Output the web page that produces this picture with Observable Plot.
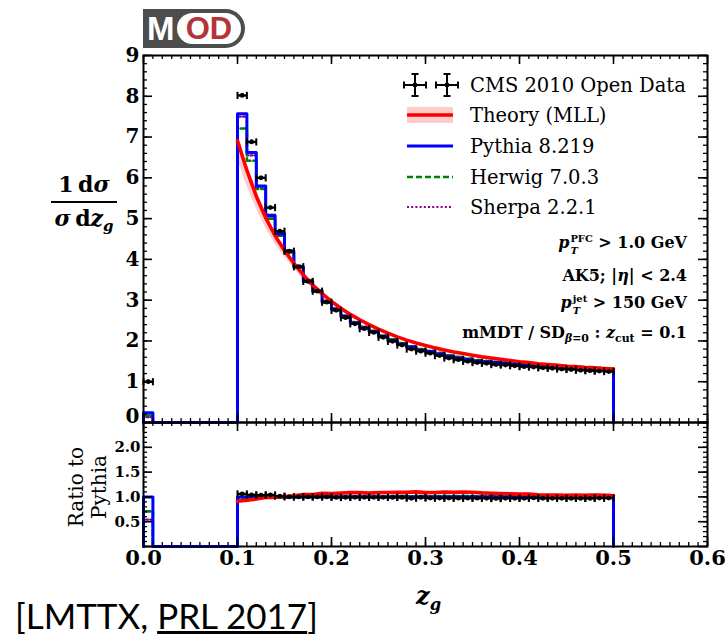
<!DOCTYPE html>
<html><head><meta charset="utf-8">
<script src="https://cdn.jsdelivr.net/npm/d3@7"></script>
<script src="https://cdn.jsdelivr.net/npm/@observablehq/plot@0.6"></script>
<style>
body{margin:0;background:#fff;}
#wrap{position:relative;width:728px;height:637px;background:#fff;overflow:hidden;font-family:"DejaVu Serif",serif;color:#000;}
.abs{position:absolute;}
.ann{position:absolute;right:41px;font-weight:bold;font-size:16px;line-height:20px;white-space:nowrap;text-align:right;}
.stk{display:inline-block;font-size:0.62em;line-height:1.2em;vertical-align:-0.6em;text-align:left;margin-left:1px;}
.stk span{display:block;}
.sb{font-size:0.68em;position:relative;top:0.35em;line-height:0;}
</style></head>
<body><div id="wrap">
  <!-- MOD logo -->
  <div class="abs" style="left:143px;top:9px;width:102px;height:39px;background:#4d4d4d;border-radius:0 20px 20px 0;font-family:'Liberation Sans',sans-serif;font-weight:bold;">
    <div class="abs" style="left:4px;top:2px;font-size:33px;line-height:36px;color:#fff;">M</div>
    <div class="abs" style="left:34px;top:4px;width:64px;height:31px;border-radius:16px;background:#fff;color:#b3343a;font-size:31px;line-height:32px;text-align:center;">OD</div>
  </div>
  <!-- y label -->
  <div class="abs" style="left:51px;top:170px;width:66px;text-align:center;font-weight:bold;font-size:22px;">
    <div style="border-bottom:2px solid #000;line-height:28px;padding-bottom:3px;">1&#8201;d<i>σ</i></div>
    <div style="line-height:30px;"><i>σ</i>&#8201;d<i>z</i><span class="sb"><i>g</i></span></div>
  </div>
  <!-- ratio label -->
  <div class="abs" style="left:28px;top:464px;width:120px;height:46px;transform:rotate(-90deg);transform-origin:60px 23px;text-align:center;font-size:20px;line-height:23px;">Ratio to<br>Pythia</div>
  <!-- x label -->
  <div class="abs" style="left:416px;top:583px;font-weight:bold;font-size:24px;line-height:26px;"><i>z</i><span class="sb"><i>g</i></span></div>
  <!-- caption -->
  <div class="abs" style="left:15px;top:594px;font-family:Lato,sans-serif;font-size:35px;line-height:42px;">[LMTTX, <u>PRL 2017</u>]</div>
</div>
<script>
// ---------------- data ----------------
// lower edges of the 0.01-wide bins between 0.10 and 0.50
const binLo = [0.10,0.11,0.12,0.13,0.14,0.15,0.16,0.17,0.18,0.19,
               0.20,0.21,0.22,0.23,0.24,0.25,0.26,0.27,0.28,0.29,
               0.30,0.31,0.32,0.33,0.34,0.35,0.36,0.37,0.38,0.39,
               0.40,0.41,0.42,0.43,0.44,0.45,0.46,0.47,0.48,0.49];
const binWidth = 0.01;
// first bin 0.00-0.01
const firstBinLo = 0.00;
const firstData = 1.00, firstPythia = 0.24, firstHerwig = 0.17, firstSherpa = 0.13;

const cmsData = [8.02,6.88,6.00,5.27,4.69,4.20,3.82,3.46,3.22,2.95,
                 2.75,2.57,2.42,2.30,2.21,2.09,1.99,1.90,1.80,1.75,
                 1.70,1.64,1.58,1.54,1.50,1.47,1.45,1.42,1.41,1.39,
                 1.37,1.36,1.34,1.33,1.31,1.30,1.28,1.27,1.26,1.25];
const cmsErr  = [0.05,0.05,0.04,0.04,0.04,0.04,0.03,0.03,0.03,0.03,
                 0.03,0.03,0.03,0.03,0.03,0.03,0.03,0.03,0.03,0.03,
                 0.03,0.03,0.03,0.03,0.03,0.03,0.03,0.03,0.03,0.03,
                 0.03,0.03,0.03,0.03,0.03,0.03,0.03,0.03,0.03,0.03];
const pythia  = [7.57,6.62,5.80,5.07,4.62,4.20,3.82,3.46,3.22,2.95,
                 2.78,2.60,2.44,2.32,2.23,2.11,2.01,1.92,1.85,1.77,
                 1.74,1.68,1.62,1.58,1.54,1.51,1.49,1.47,1.45,1.43,
                 1.41,1.39,1.38,1.37,1.35,1.34,1.32,1.31,1.29,1.28];
const herwig  = [7.21,6.42,5.73,5.00,4.58,4.17,3.80,3.46,3.22,2.97,
                 2.79,2.62,2.46,2.34,2.25,2.13,2.04,1.95,1.87,1.80,
                 1.76,1.71,1.65,1.61,1.57,1.53,1.51,1.49,1.47,1.45,
                 1.43,1.42,1.42,1.41,1.39,1.38,1.36,1.36,1.34,1.33];
const sherpa  = [7.50,6.55,5.78,5.10,4.66,4.22,3.84,3.50,3.25,2.99,
                 2.80,2.62,2.47,2.35,2.24,2.13,2.03,1.95,1.86,1.80,
                 1.75,1.69,1.64,1.60,1.56,1.52,1.50,1.48,1.46,1.44,
                 1.42,1.40,1.39,1.38,1.36,1.35,1.33,1.32,1.30,1.29];
// theory (MLL) curve
const theoryZ = [0.10,0.11,0.12,0.13,0.14,0.15,0.16,0.17,0.18,0.19,
                 0.20,0.21,0.22,0.23,0.24,0.25,0.26,0.27,0.28,0.29,
                 0.30,0.31,0.32,0.33,0.34,0.35,0.36,0.37,0.38,0.39,
                 0.40,0.41,0.42,0.43,0.44,0.45,0.46,0.47,0.48,0.49,0.50];
const theory  = [6.91,6.18,5.55,5.02,4.58,4.22,3.90,3.62,3.37,3.16,
                 2.97,2.80,2.65,2.52,2.40,2.29,2.19,2.10,2.02,1.95,
                 1.89,1.83,1.78,1.73,1.69,1.65,1.61,1.58,1.55,1.52,
                 1.49,1.47,1.44,1.42,1.40,1.38,1.37,1.35,1.34,1.32,1.31];
// theory uncertainty band
const bandZ  = [0.10,0.11,0.12,0.13,0.14,0.15,0.16,0.17,0.18,0.19,0.20,0.21,0.22,0.23,0.24,0.25];
const bandLo = [6.45,5.80,5.24,4.77,4.38,4.06,3.77,3.51,3.28,3.08,2.91,2.75,2.61,2.49,2.38,2.28];
const bandHi = [6.98,6.24,5.60,5.06,4.61,4.24,3.92,3.64,3.38,3.17,2.98,2.81,2.66,2.53,2.41,2.30];

// axis ticks
const xMajor = [0.0,0.1,0.2,0.3,0.4,0.5,0.6];
const xMinor = d3.range(0, 61).map(i => i / 100);
const yMainMajor = [0,1,2,3,4,5,6,7,8,9];
const yMainMinor = d3.range(0, 46).map(i => i / 5);
const yRatioMajor = [0,0.5,1.0,1.5,2.0,2.5];
const yRatioLabels = [0.5,1.0,1.5,2.0];
const yRatioMinor = d3.range(0, 26).map(i => i / 10);

// ---------------- helpers ----------------
function stepPoints(first, vals) {
  const pts = [{x: firstBinLo, y: 0}, {x: firstBinLo, y: first}, {x: firstBinLo + binWidth, y: 0}];
  binLo.forEach((lo, i) => pts.push({x: lo, y: vals[i]}));
  pts.push({x: binLo[binLo.length - 1] + binWidth, y: 0});
  return pts;
}
const ratioOf = (a, b) => a.map((v, i) => b[i] > 0 ? v / b[i] : 0);

const capSymbol = {draw(ctx, size) { const h = Math.sqrt(size / Math.PI); ctx.moveTo(0, -h); ctx.lineTo(0, h); }};

function dataMarks(rows, clip) {
  const caps = rows.flatMap(d => [{x: d.z - binWidth / 2, y: d.v}, {x: d.z + binWidth / 2, y: d.v}]);
  return [
    Plot.link(rows, {x1: d => d.z - binWidth / 2, x2: d => d.z + binWidth / 2, y1: "v", y2: "v", stroke: "black", strokeWidth: 2.4, clip}),
    Plot.ruleX(rows, {x: "z", y1: d => d.v - d.e, y2: d => d.v + d.e, stroke: "black", strokeWidth: 2, clip}),
    Plot.dot(caps, {x: "x", y: "y", symbol: capSymbol, r: 3.6, stroke: "black", fill: "none", strokeWidth: 2, clip}),
    Plot.dot(rows, {x: "z", y: "v", r: 2.4, fill: "black", stroke: null, clip})
  ];
}

function frameTicks(fw, fh, yMajor, yMinor) {
  const sw = 1.3;
  return [
    Plot.tickX(xMinor, {x: d => d, insetTop: fh - 4, strokeWidth: sw}),
    Plot.tickX(xMinor, {x: d => d, insetBottom: fh - 4, strokeWidth: sw}),
    Plot.tickX(xMajor, {x: d => d, insetTop: fh - 9, strokeWidth: sw + 0.3}),
    Plot.tickX(xMajor, {x: d => d, insetBottom: fh - 9, strokeWidth: sw + 0.3}),
    Plot.tickY(yMinor, {y: d => d, insetRight: fw - 4, strokeWidth: sw}),
    Plot.tickY(yMinor, {y: d => d, insetLeft: fw - 4, strokeWidth: sw}),
    Plot.tickY(yMajor, {y: d => d, insetRight: fw - 9, strokeWidth: sw + 0.3}),
    Plot.tickY(yMajor, {y: d => d, insetLeft: fw - 9, strokeWidth: sw + 0.3})
  ];
}

const W = 728, mL = 143, mR = 21;
const fw = W - mL - mR;
const wrap = document.getElementById("wrap");
function place(svg, top) {
  svg.style.position = "absolute";
  svg.style.left = "0px";
  svg.style.top = top + "px";
  svg.style.maxWidth = "none";
  wrap.appendChild(svg);
}

// ---------------- main panel ----------------
const mainData = [{z: 0.005, v: firstData, e: 0.04}].concat(binLo.map((lo, i) => ({z: lo + binWidth / 2, v: cmsData[i], e: cmsErr[i]})));
const theoryRows = theoryZ.map((z, i) => ({z, v: theory[i]}));
const bandRows = bandZ.map((z, i) => ({z, lo: bandLo[i], hi: bandHi[i]}));

const mainH = 430, mainT = 55, mainB = 8;
const main = Plot.plot({
  width: W, height: mainH,
  marginLeft: mL, marginRight: mR, marginTop: mainT, marginBottom: mainB,
  style: {background: "transparent", fontFamily: "DejaVu Serif", overflow: "visible"},
  x: {domain: [0, 0.6], axis: null},
  y: {domain: [0, 9], axis: null},
  marks: [
    Plot.areaY(bandRows, {x: "z", y1: "lo", y2: "hi", fill: "#ff9a9a", fillOpacity: 0.5}),
    Plot.line(stepPoints(firstSherpa, sherpa), {x: "x", y: "y", curve: "step-after", stroke: "#8b008b", strokeWidth: 2.2, strokeDasharray: "2,2.2"}),
    Plot.line(stepPoints(firstHerwig, herwig), {x: "x", y: "y", curve: "step-after", stroke: "#008000", strokeWidth: 2.6, strokeDasharray: "6,3"}),
    Plot.line(stepPoints(firstPythia, pythia), {x: "x", y: "y", curve: "step-after", stroke: "#0000ff", strokeWidth: 3}),
    Plot.line(theoryRows, {x: "z", y: "v", stroke: "#ff0000", strokeWidth: 3.6}),
    ...dataMarks(mainData, false),
    ...frameTicks(fw, mainH - mainT - mainB, yMainMajor, yMainMinor),
    Plot.frame({stroke: "black", strokeWidth: 2}),
    Plot.text(yMainMajor.filter(d => d > 0), {y: d => d, text: d => String(d), frameAnchor: "left", textAnchor: "end", dx: -4, fontSize: 20, fontWeight: "bold"}),
    Plot.text([0], {y: d => d, text: d => String(d), frameAnchor: "left", textAnchor: "end", dx: -4, dy: -6, fontSize: 20, fontWeight: "bold"})
  ]
});
place(main, 0);

// ---------------- ratio panel ----------------
const rData = ratioOf(cmsData, pythia);
const rErr = ratioOf(cmsErr, pythia);
const ratioData = binLo.map((lo, i) => ({z: lo + binWidth / 2, v: rData[i], e: rErr[i]}));
const rPythia = pythia.map(v => v > 0 ? 1 : 0);
const rHerwig = ratioOf(herwig, pythia);
const rSherpa = ratioOf(sherpa, pythia);
const theoryRatio = theoryZ.map((z, i) => ({z, v: theory[i] / pythia[Math.min(i, pythia.length - 1)]}));

const rH = 172, rT = 8, rB = 40;
const ratio = Plot.plot({
  width: W, height: rH,
  marginLeft: mL, marginRight: mR, marginTop: rT, marginBottom: rB,
  style: {background: "transparent", fontFamily: "DejaVu Serif", overflow: "visible"},
  x: {domain: [0, 0.6], axis: null},
  y: {domain: [0, 2.5], axis: null},
  marks: [
    Plot.line(stepPoints(firstSherpa / firstPythia, rSherpa), {x: "x", y: "y", curve: "step-after", stroke: "#8b008b", strokeWidth: 2.2, strokeDasharray: "2,2.2"}),
    Plot.line(stepPoints(firstHerwig / firstPythia, rHerwig), {x: "x", y: "y", curve: "step-after", stroke: "#008000", strokeWidth: 2.6, strokeDasharray: "6,3"}),
    Plot.line(stepPoints(1, rPythia), {x: "x", y: "y", curve: "step-after", stroke: "#0000ff", strokeWidth: 3}),
    Plot.line(theoryRatio, {x: "z", y: "v", stroke: "#ff0000", strokeWidth: 3.6}),
    ...dataMarks(ratioData, true),
    ...frameTicks(fw, rH - rT - rB, yRatioMajor, yRatioMinor),
    Plot.frame({stroke: "black", strokeWidth: 2}),
    Plot.text(yRatioLabels, {y: d => d, text: d => d.toFixed(1), frameAnchor: "left", textAnchor: "end", dx: -3, fontSize: 15, fontWeight: "bold"}),
    Plot.text(xMajor, {x: d => d, text: d => d.toFixed(1), frameAnchor: "bottom", lineAnchor: "top", dy: 4, fontSize: 21, fontWeight: "bold"})
  ]
});
place(ratio, 414);

// ---------------- legend ----------------
const legend = d3.create("svg").attr("width", 300).attr("height", 160)
  .style("position", "absolute").style("left", "395px").style("top", "68px")
  .style("font-family", "DejaVu Serif");
const rows = [
  {label: "CMS 2010 Open Data", y: 17},
  {label: "Theory (MLL)", y: 47},
  {label: "Pythia 8.219", y: 78},
  {label: "Herwig 7.0.3", y: 109},
  {label: "Sherpa 2.2.1", y: 139}
];
rows.forEach(r => legend.append("text").attr("x", 75).attr("y", r.y).attr("dy", "0.36em").attr("font-size", 19.5).text(r.label));
// data crosses
[20, 52].forEach(cx => {
  const g = legend.append("g").attr("stroke", "black").attr("stroke-width", 2);
  const cy = rows[0].y, h = 11, c = 3.5;
  g.append("line").attr("x1", cx - h).attr("x2", cx + h).attr("y1", cy).attr("y2", cy);
  g.append("line").attr("x1", cx).attr("x2", cx).attr("y1", cy - h).attr("y2", cy + h);
  g.append("line").attr("x1", cx - h).attr("x2", cx - h).attr("y1", cy - c).attr("y2", cy + c);
  g.append("line").attr("x1", cx + h).attr("x2", cx + h).attr("y1", cy - c).attr("y2", cy + c);
  g.append("line").attr("x1", cx - c).attr("x2", cx + c).attr("y1", cy - h).attr("y2", cy - h);
  g.append("line").attr("x1", cx - c).attr("x2", cx + c).attr("y1", cy + h).attr("y2", cy + h);
  legend.append("circle").attr("cx", cx).attr("cy", cy).attr("r", 2.4);
});
legend.append("rect").attr("x", 12).attr("y", rows[1].y - 8).attr("width", 46).attr("height", 16).attr("fill", "#ff9a9a").attr("fill-opacity", 0.5);
legend.append("line").attr("x1", 12).attr("x2", 58).attr("y1", rows[1].y).attr("y2", rows[1].y).attr("stroke", "#ff0000").attr("stroke-width", 3.6);
legend.append("line").attr("x1", 12).attr("x2", 58).attr("y1", rows[2].y).attr("y2", rows[2].y).attr("stroke", "#0000ff").attr("stroke-width", 3);
legend.append("line").attr("x1", 12).attr("x2", 58).attr("y1", rows[3].y).attr("y2", rows[3].y).attr("stroke", "#008000").attr("stroke-width", 2.6).attr("stroke-dasharray", "6,3");
legend.append("line").attr("x1", 12).attr("x2", 58).attr("y1", rows[4].y).attr("y2", rows[4].y).attr("stroke", "#8b008b").attr("stroke-width", 2.2).attr("stroke-dasharray", "2,2.2");
wrap.appendChild(legend.node());

// ---------------- annotations ----------------
const ann = [
  {top: 233, html: '<i>p</i><span class="stk"><span>PFC</span><span><i>T</i></span></span> &gt; 1.0 GeV'},
  {top: 266, html: 'AK5; |<i>η</i>| &lt; 2.4'},
  {top: 293, html: '<i>p</i><span class="stk"><span>jet</span><span><i>T</i></span></span> &gt; 150 GeV'},
  {top: 323, html: 'mMDT / SD<span class="sb"><i>β</i>=0</span> : <i>z</i><span class="sb">cut</span> = 0.1'}
];
ann.forEach(a => {
  const d = document.createElement("div");
  d.className = "ann";
  d.style.top = a.top + "px";
  d.innerHTML = a.html;
  wrap.appendChild(d);
});
</script>
</body></html>
